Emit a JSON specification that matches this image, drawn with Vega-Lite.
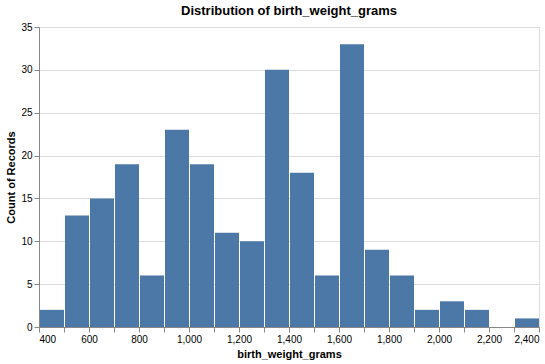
{
  "$schema": "https://vega.github.io/schema/vega-lite/v6.json",
  "width": 500,
  "height": 300,
  "title": "Distribution of birth_weight_grams",
  "data": {
    "values": [
      {"bin_start": 400, "bin_end": 500, "count": 2},
      {"bin_start": 500, "bin_end": 600, "count": 13},
      {"bin_start": 600, "bin_end": 700, "count": 15},
      {"bin_start": 700, "bin_end": 800, "count": 19},
      {"bin_start": 800, "bin_end": 900, "count": 6},
      {"bin_start": 900, "bin_end": 1000, "count": 23},
      {"bin_start": 1000, "bin_end": 1100, "count": 19},
      {"bin_start": 1100, "bin_end": 1200, "count": 11},
      {"bin_start": 1200, "bin_end": 1300, "count": 10},
      {"bin_start": 1300, "bin_end": 1400, "count": 30},
      {"bin_start": 1400, "bin_end": 1500, "count": 18},
      {"bin_start": 1500, "bin_end": 1600, "count": 6},
      {"bin_start": 1600, "bin_end": 1700, "count": 33},
      {"bin_start": 1700, "bin_end": 1800, "count": 9},
      {"bin_start": 1800, "bin_end": 1900, "count": 6},
      {"bin_start": 1900, "bin_end": 2000, "count": 2},
      {"bin_start": 2000, "bin_end": 2100, "count": 3},
      {"bin_start": 2100, "bin_end": 2200, "count": 2},
      {"bin_start": 2200, "bin_end": 2300, "count": 0},
      {"bin_start": 2300, "bin_end": 2400, "count": 1}
    ]
  },
  "mark": "bar",
  "encoding": {
    "x": {
      "field": "bin_start",
      "type": "quantitative",
      "bin": {"binned": true, "step": 100},
      "title": "birth_weight_grams",
      "scale": {"domain": [400, 2400]}
    },
    "x2": {"field": "bin_end"},
    "y": {
      "field": "count",
      "type": "quantitative",
      "title": "Count of Records",
      "scale": {"domain": [0, 35]}
    }
  }
}
